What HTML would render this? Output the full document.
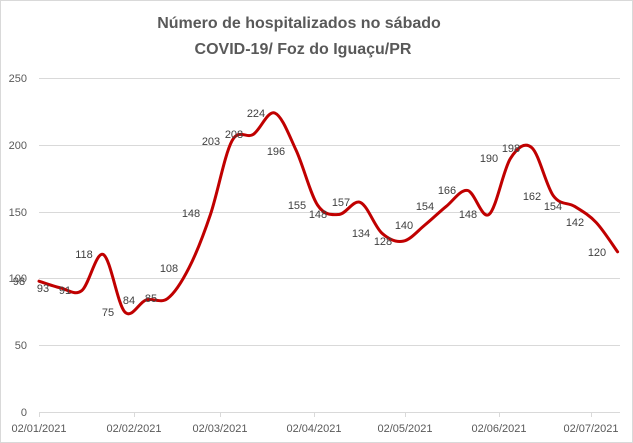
<!DOCTYPE html>
<html><head><meta charset="utf-8"><style>
html,body{margin:0;padding:0;background:#fff}
svg{display:block;font-family:"Liberation Sans",sans-serif}
</style></head><body>
<svg width="633" height="443" viewBox="0 0 633 443">
<rect x="0.5" y="0.5" width="632" height="442" fill="#fff" stroke="#d9d9d9"/>
<g font-weight="bold" font-size="16" fill="#595959" text-anchor="middle">
<text x="299" y="28">Número de hospitalizados  no sábado</text>
<text x="303" y="54">COVID-19/ Foz do Iguaçu/PR</text>
</g>
<g stroke="#d9d9d9" stroke-width="1">
<line x1="39" y1="78.5" x2="620" y2="78.5"/>
<line x1="39" y1="145.5" x2="620" y2="145.5"/>
<line x1="39" y1="212.5" x2="620" y2="212.5"/>
<line x1="39" y1="278.5" x2="620" y2="278.5"/>
<line x1="39" y1="345.5" x2="620" y2="345.5"/>
<line x1="39" y1="412.5" x2="620" y2="412.5"/>
<line x1="39.5" y1="412" x2="39.5" y2="417"/>
<line x1="134.5" y1="412" x2="134.5" y2="417"/>
<line x1="220.5" y1="412" x2="220.5" y2="417"/>
<line x1="314.5" y1="412" x2="314.5" y2="417"/>
<line x1="405.5" y1="412" x2="405.5" y2="417"/>
<line x1="499.5" y1="412" x2="499.5" y2="417"/>
<line x1="591.5" y1="412" x2="591.5" y2="417"/>
</g>
<g font-size="11" fill="#595959" text-anchor="end">
<text x="27" y="82">250</text><text x="27" y="149">200</text><text x="27" y="216">150</text>
<text x="27" y="282">100</text><text x="27" y="349">50</text><text x="27" y="416">0</text>
</g>
<g font-size="11" fill="#595959" text-anchor="middle">
<text x="39" y="432">02/01/2021</text><text x="134" y="432">02/02/2021</text>
<text x="220" y="432">02/03/2021</text><text x="314" y="432">02/04/2021</text>
<text x="405" y="432">02/05/2021</text><text x="499" y="432">02/06/2021</text>
<text x="591" y="432">02/07/2021</text>
</g>
<path id="ln" fill="none" stroke="#c00000" stroke-width="3" stroke-linejoin="round" stroke-linecap="round"/>
<g font-size="11" fill="#404040" text-anchor="middle">
<text x="19" y="285">98</text><text x="43" y="292">93</text><text x="65" y="294">91</text>
<text x="84" y="258">118</text><text x="108" y="316">75</text><text x="129" y="304">84</text>
<text x="151" y="302">85</text><text x="169" y="272">108</text><text x="191" y="217">148</text>
<text x="211" y="145">203</text><text x="234" y="138">208</text><text x="256" y="117">224</text>
<text x="276" y="155">196</text><text x="297" y="209">155</text><text x="318" y="218">148</text>
<text x="341" y="206">157</text><text x="361" y="237">134</text><text x="383" y="245">128</text>
<text x="404" y="229">140</text><text x="425" y="210">154</text><text x="447" y="194">166</text>
<text x="468" y="218">148</text><text x="489" y="162">190</text><text x="511" y="152">198</text>
<text x="532" y="200">162</text><text x="553" y="210">154</text><text x="575" y="226">142</text>
<text x="597" y="256">120</text>
</g>
</svg>
<script>
var v=[98,93,91,118,75,84,85,108,148,203,208,224,196,155,148,157,134,128,140,154,166,148,190,198,162,154,142,120];
var p=v.map(function(a,i){return [39+i*21.43,412-a*1.3347];});
var d="M"+p[0][0]+","+p[0][1];
for(var i=0;i<p.length-1;i++){
var p0=p[i-1]||p[i],p1=p[i],p2=p[i+1],p3=p[i+2]||p[i+1],t=6;
d+=" C"+(p1[0]+(p2[0]-p0[0])/t)+","+(p1[1]+(p2[1]-p0[1])/t)+" "+(p2[0]-(p3[0]-p1[0])/t)+","+(p2[1]-(p3[1]-p1[1])/t)+" "+p2[0]+","+p2[1];}
document.getElementById("ln").setAttribute("d",d);
</script>
</body></html>
